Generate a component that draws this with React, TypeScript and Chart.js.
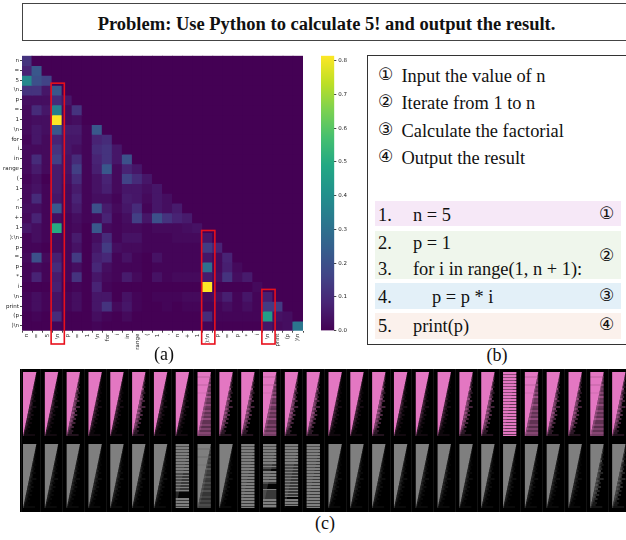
import React, { useEffect, useRef } from "react";
import { Chart, registerables } from "chart.js";

Chart.register(...registerables);

const TOKENS_Y = ["n","=","5","\\n","p","=","1","\\n","for","i","in","range","(","1",",","n","+","1","):\\n","p","=","p","*","i","\\n","print","(p",")\\n"];
const TOKENS_X = ["n","=","5","\\n","p","=","1","\\n","for","i","in","range","(","1",",","n","+","1","):\\n","p","=","p","*","i","\\n","print","(p",")\\n"];

const ATTENTION: number[][] = [
  [.12],
  [.08,.22],
  [.38,.2,.16],
  [.12,.12,.05,.22],
  [.03,.03,.03,.1,.05],
  [.02,.1,.05,.35,.02,.12],
  [.02,.03,.03,.82,.02,.03,0],
  [.02,.05,.03,.22,.06,.06,.01,.22],
  [.01,.05,.02,.08,.05,.05,.01,.08,.1],
  [.02,.02,.02,.12,.05,.03,.01,.1,.12,.05],
  [.02,.1,.02,.15,.04,.1,.01,.08,.12,.05,.2],
  [.02,.06,.02,.06,.04,.15,.01,.07,.22,.02,.08,.05],
  [.01,.03,0,.06,.03,.1,.01,.04,.08,.02,.16,.1,.05],
  [.02,.04,.01,.06,.02,.06,.01,.04,.07,.02,.05,.05,.03,.05],
  [.02,.1,.01,.05,.02,.08,.01,.03,.03,.01,.06,.05,.02,.05,.03],
  [.03,.03,.01,.22,.02,.06,.01,.2,.06,.02,.05,.1,.01,.05,.03,.06],
  [.02,.08,.01,.03,.01,.03,.01,.02,.08,.01,.03,.15,.05,.2,.12,.08,.06],
  [.05,.03,.01,.5,.01,.02,0,.22,.02,.01,.02,.02,.01,.02,.02,.02,.03,.04],
  [.01,.03,.01,.02,.01,.06,0,.03,.1,.01,.04,.04,.01,.01,.01,.02,.02,.02,.05],
  [.01,.01,0,.02,.01,.04,0,.05,.14,.03,.02,.02,.01,.01,.01,.01,.01,.01,.14,.08],
  [.02,.2,.02,.07,.01,.14,0,.07,.09,.01,.04,.01,0,.04,.01,.01,.01,.01,.05,.02,.08],
  [.01,.02,.01,.1,.01,.03,0,.09,.03,.01,.01,.01,0,.01,.01,.01,.01,.01,.3,.02,.07,.02],
  [.01,.08,.01,.06,.01,.12,0,.05,.02,.01,.06,.02,0,.04,.01,.02,.02,.02,.06,.03,.12,.03,.06],
  [0,0,0,.07,0,.01,0,.08,.01,0,0,0,0,0,0,0,0,0,.82,0,0,0,0,.02],
  [.01,.03,.01,.04,.01,.03,0,.05,.05,0,.04,.01,0,.01,.01,.01,.02,.02,.02,.03,.07,.01,.05,.01,.07],
  [.01,.03,.01,.04,.01,.03,0,.05,.12,.02,.05,.01,0,0,.01,0,.01,.01,.01,.01,.03,.01,.03,.01,.14,.14],
  [0,.01,0,.1,0,0,0,.03,.01,0,.02,0,0,0,0,0,0,0,.1,.01,.01,.01,.01,.01,.45,.04,.03],
  [0,0,0,.01,0,0,0,.01,0,0,0,0,0,0,0,0,0,0,.01,0,0,0,0,0,.05,.02,.03,.32],
];

const COLORBAR_TICKS = [0, .1, .2, .3, .4, .5, .6, .7, .8];
const COLORBAR_MAX = 0.815;
const VIRIDIS = ["#440154","#482475","#414487","#355f8d","#2a788e","#21918c","#22a884","#44bf70","#7ad151","#bddf26","#fde725"];
const HIGHLIGHT_COLS = [3, 18, 24];
const HIGHLIGHT_ROWS = [3, 18, 24];

// Panel (c): 1 row = 1 pixel of the strip
const TILE_COUNT = 28;
const TILE_WIDTH = 0.61;
const ROW_LABELS = Array.from({ length: 144 }, (_, i) => String(i));
const TRIANGLE = [100,98,97,95,94,92,91,89,88,86,84,83,81,80,78,77,75,73,72,70,69,67,66,64,63,61,59,58,56,55,53,52,50,48,47,45,44,42,41,39,38,36,34,33,31,30,28,27,25,23,22,20,19,17,16,14,13,11,9,8,6,5,3,2];
const HALO = [0,0,0,2,3,4,5,6,7,8,9,10,11,12,12,13,13,14,14,15,15,15,15,15,15,14,14,13,12,10,8,6];
const TAIL_MILD_END = [100,100,100,100,96,100,92,100,88,92,100,84,90,80,96,76,72,100,70,78,62,80,58,70,50,66,42,54,36,50,40,90];
const TAIL_MILD_A = [.15,.12,.1,.06,.12,.06,.1,.06,.15,.08,.06,.12,.08,.16,.08,.14,.18,.1,.16,.08,.16,.1,.16,.08,.12,.08,.12,.08,.08,.05,.06,.08];
const TAIL_MED_A = [.4,.35,.3,.25,.4,.2,.3,.2,.6,.3,.2,.35,.3,.55,.3,.4,.45,.3,.5,.3,.55,.35,.5,.3,.45,.3,.4,.3,.25,.2,.2,.15];
const TAIL_BUSY_END = [100,100,100,100,100,100,100,100,100,100,100,100,100,100,100,100,100,100,100,100,100,100,100,100,100,100,100,100,100,100,100,100];
const TAIL_BUSY_A = [.45,.3,.5,.35,.4,.25,.55,.3,.4,.3,.5,.3,.6,.35,.4,.3,.55,.35,.3,.5,.3,.45,.3,.55,.3,.3,.45,.25,.45,.3,.5,.4];
const TRI_BUSY_A = [1,1,.9,1,1,1,.9,1,1,1,.95,1,1,1,1,1,1,1,1,1,1,1,1,1,1,1,1,1,1,1,1,1];
const STRIPE_A = "1101101101101101101101101101101101101101101101101101101101101101";
const STRIPE_B = "1101101101101101101101101101100100100100100100102222221101101101";
const STRIPE_C = "1101101101101101101100100221101101101100222221000000000110110110";
const STRIPE_D = "1101101101101101101100100100100100100100100100100100122110110122";
// 0 mild, 1 medium, 2 busy, 3..6 stripes A..D
const PINK_STYLE = [0,0,1,0,0,1,0,0,2,1,1,2,1,1,0,0,1,0,0,0,1,1,3,2,1,1,2,1];
const GREY_STYLE = [0,0,0,0,0,0,0,4,2,0,3,5,6,3,0,0,0,0,0,0,0,0,0,0,0,0,1,1];
const SEPARATORS = [-0.05,0.82,1.82,2.82,3.82,4.82,5.82,6.82,7.82,8.82,9.82,10.82,11.82,12.82,13.82,14.82,15.82,16.82,17.82,18.82,19.82,20.82,21.82,22.82,23.82,24.82,25.82,26.82];
const PINK_RGB = "227,119,194";
const GREY_RGB = "127,127,127";
const PINK_FIRST_ROW = 4;
const GREY_FIRST_ROW = 76;

const hexRgb = (h: string) => [1, 3, 5].map((i) => parseInt(h.slice(i, i + 2), 16));
function viridis(v: number) {
  const t = Math.max(0, Math.min(1, v / COLORBAR_MAX)) * (VIRIDIS.length - 1);
  const i = Math.min(VIRIDIS.length - 2, Math.floor(t));
  const a = hexRgb(VIRIDIS[i]);
  const b = hexRgb(VIRIDIS[i + 1]);
  const f = t - i;
  return `rgb(${a.map((c, k) => Math.round(c + (b[k] - c) * f)).join(",")})`;
}

function tileLayers(idx: number, style: number, firstRow: number, rgb: string) {
  const blank = () => ROW_LABELS.map(() => null as any);
  const tri = blank(), halo = blank(), tail = blank(), stripes = blank();
  const triColors: string[] = [], haloColors: string[] = [], tailColors: string[] = [], stripeColors: string[] = [];
  const isStripe = style >= 3;
  const mask = [STRIPE_A, STRIPE_B, STRIPE_C, STRIPE_D][style - 3] ?? STRIPE_A;
  const frac = (p: number) => idx + (TILE_WIDTH * Math.min(100, p)) / 100;
  TRIANGLE.forEach((w, r) => {
    const coarse = Math.floor(r / 2);
    const row = firstRow + r;
    const triEnd = frac(w);
    tri[row] = [idx, triEnd];
    triColors[row] = `rgba(${rgb},${isStripe ? 0.3 : style === 2 ? TRI_BUSY_A[coarse] : 1})`;
    if (isStripe) {
      stripes[row] = [idx, idx + TILE_WIDTH];
      const m = mask[r];
      stripeColors[row] = `rgba(${rgb},${m === "1" ? 1 : m === "0" ? 0.45 : 0.03})`;
      return;
    }
    halo[row] = [triEnd, frac(w + HALO[coarse])];
    haloColors[row] = `rgba(${rgb},${style === 0 ? 0.15 : 0.25})`;
    const endList = style === 2 ? TAIL_BUSY_END : TAIL_MILD_END;
    const aList = style === 0 ? TAIL_MILD_A : style === 1 ? TAIL_MED_A : TAIL_BUSY_A;
    tail[row] = [triEnd, frac(Math.max(endList[coarse], w))];
    tailColors[row] = `rgba(${rgb},${aList[coarse]})`;
    if (style === 2) {
      stripes[row] = [idx, idx + TILE_WIDTH];
      stripeColors[row] = `rgba(${rgb},0.18)`;
    }
  });
  const common = { borderWidth: 0, inflateAmount: 0 as any };
  return [
    { data: tri, backgroundColor: triColors, ...common },
    { data: halo, backgroundColor: haloColors, ...common },
    { data: tail, backgroundColor: tailColors, ...common },
    { data: stripes, backgroundColor: stripeColors, ...common },
  ];
}

const redBoxes = {
  id: "redBoxes",
  afterDatasetsDraw(chart: any) {
    const { ctx, scales } = chart;
    ctx.save();
    ctx.strokeStyle = "#e8101c";
    ctx.lineWidth = 1.6;
    HIGHLIGHT_COLS.forEach((col, i) => {
      const cx = scales.x.getPixelForValue(col);
      const top = scales.y.getPixelForValue(HIGHLIGHT_ROWS[i]) - 2;
      ctx.strokeRect(cx - 6, top, 13.2, 344 - 45 - top);
    });
    ctx.restore();
  },
};

const abs = (l: number, t: number, extra: React.CSSProperties = {}): React.CSSProperties => ({
  position: "absolute", left: l, top: t, whiteSpace: "pre", lineHeight: 1, ...extra,
});
const SERIF = '"Liberation Serif", serif';
const CIRCLE = '"DejaVu Sans", sans-serif';

const STEPS = ["Input the value of n", "Iterate from 1 to n", "Calculate the factorial", "Output the result"];
const STEP_MARKS = ["①", "②", "③", "④"];
const STEP_Y = [76, 103, 131, 158];
const BANDS: [number, number, string][] = [[201, 25, "#f6e8f7"], [231, 48, "#eff6ec"], [283, 26, "#e3f0f8"], [313, 26, "#fbf1ec"]];
const CODE: [string, string, number, number][] = [
  ["1.", "n = 5", 413, 215],
  ["2.", "p = 1", 413, 243],
  ["3.", "for i in range(1, n + 1):", 413, 269],
  ["4.", "p = p * i", 432, 297],
  ["5.", "print(p)", 413, 326],
];
const CODE_MARKS: [string, number][] = [["①", 215], ["②", 257], ["③", 297], ["④", 326]];

export default function App() {
  const heatRef = useRef<HTMLCanvasElement>(null);
  const barRef = useRef<HTMLCanvasElement>(null);
  const tileRef = useRef<HTMLCanvasElement>(null);

  useEffect(() => {
    document.body.style.margin = "0";
    const tickFont = { family: "DejaVu Sans", size: 5.5 };
    const heat = new Chart(heatRef.current!, {
      type: "bar",
      data: {
        labels: TOKENS_X,
        datasets: TOKENS_Y.map((_, r) => ({
          data: TOKENS_X.map(() => 1),
          backgroundColor: TOKENS_X.map((_, c) => viridis(ATTENTION[r][c] ?? 0)),
          borderWidth: 0,
          inflateAmount: 0.5,
          categoryPercentage: 1,
          barPercentage: 1,
        })),
      },
      options: {
        responsive: false,
        animation: false,
        layout: { padding: { top: 10.7, right: 7, left: 0, bottom: 0 } },
        plugins: { legend: { display: false }, tooltip: { enabled: false } },
        scales: {
          x: {
            stacked: true,
            grid: { display: true, drawOnChartArea: false, tickLength: 2, tickColor: "#444" },
            border: { display: false },
            ticks: { autoSkip: false, minRotation: 90, maxRotation: 90, font: tickFont, color: "#222", padding: 1 },
            afterFit: (s: any) => { s.height = 34.3; },
          },
          y: {
            stacked: true,
            reverse: true,
            min: 0,
            max: 28,
            grid: { display: true, drawOnChartArea: false, tickLength: 2, tickColor: "#444" },
            border: { display: false },
            afterBuildTicks: (s: any) => { s.ticks = TOKENS_Y.map((_, i) => ({ value: i + 0.5 })); },
            ticks: { autoSkip: false, font: tickFont, color: "#222", padding: 1, callback: (v: any) => TOKENS_Y[Math.floor(v)] },
            afterFit: (s: any) => { s.width = 22; },
          },
        },
      } as any,
      plugins: [redBoxes],
    });

    const bctx = barRef.current!.getContext("2d")!;
    const grad = bctx.createLinearGradient(0, 285.7, 0, 10.7);
    VIRIDIS.forEach((c, i) => grad.addColorStop(i / (VIRIDIS.length - 1), c));
    const bar = new Chart(barRef.current!, {
      type: "bar",
      data: {
        labels: [""],
        datasets: [{ data: [[0, COLORBAR_MAX]] as any, backgroundColor: grad, borderWidth: 0, categoryPercentage: 1, barPercentage: 1 }],
      },
      options: {
        responsive: false,
        animation: false,
        layout: { padding: { top: 10.7, left: 11, right: 0, bottom: 34.3 } },
        plugins: { legend: { display: false }, tooltip: { enabled: false } },
        scales: {
          x: { display: false },
          y: {
            position: "right",
            min: 0,
            max: COLORBAR_MAX,
            grid: { display: true, drawOnChartArea: false, tickLength: 2, tickColor: "#444" },
            border: { display: false },
            afterBuildTicks: (s: any) => { s.ticks = COLORBAR_TICKS.map((value) => ({ value })); },
            ticks: { font: tickFont, color: "#222", padding: 2, callback: (v: any) => Number(v).toFixed(1) },
            afterFit: (s: any) => { s.width = 25.7; },
          },
        },
      } as any,
    });

    const datasets: any[] = [];
    for (let i = 0; i < TILE_COUNT; i++) {
      datasets.push(...tileLayers(i, PINK_STYLE[i], PINK_FIRST_ROW, PINK_RGB));
      datasets.push(...tileLayers(i, GREY_STYLE[i], GREY_FIRST_ROW, GREY_RGB));
    }
    const tiles = new Chart(tileRef.current!, {
      type: "bar",
      data: { labels: ROW_LABELS, datasets },
      options: {
        indexAxis: "y",
        responsive: false,
        animation: false,
        datasets: { bar: { grouped: false, categoryPercentage: 1, barPercentage: 1 } },
        layout: { padding: 0 },
        plugins: { legend: { display: false }, tooltip: { enabled: false } },
        scales: {
          x: {
            min: -0.1375,
            max: 27.635,
            grid: { color: "#131313", drawTicks: false, lineWidth: 1 },
            border: { display: false },
            ticks: { display: false },
            afterBuildTicks: (s: any) => { s.ticks = SEPARATORS.map((value) => ({ value })); },
          },
          y: { display: false },
        },
      } as any,
    });

    return () => { heat.destroy(); bar.destroy(); tiles.destroy(); };
  }, []);

  return (
    <div style={{ position: "relative", width: 626, height: 540, overflow: "hidden", background: "#fff", color: "#111", fontFamily: SERIF, filter: "blur(0.35px)" }}>
      <div style={{ position: "absolute", left: 22, top: 3, width: 620, height: 36, border: "1px solid #444" }} />
      <div style={abs(0, 15, { width: 653, textAlign: "center", fontWeight: 700, fontSize: 18.5 })}>Problem: Use Python to calculate 5! and output the result.</div>

      <canvas ref={heatRef} width={310} height={320} style={{ position: "absolute", left: 0, top: 45 }} />
      <canvas ref={barRef} width={50} height={320} style={{ position: "absolute", left: 310, top: 45 }} />
      <div style={abs(144, 345, { width: 40, textAlign: "center", fontSize: 18 })}>(a)</div>

      <div style={{ position: "absolute", left: 367, top: 55, width: 300, height: 288, border: "1px solid #333" }} />
      {STEPS.map((s, i) => (
        <React.Fragment key={s}>
          <div style={abs(378, STEP_Y[i] - 10, { fontFamily: CIRCLE, fontSize: 17 })}>{STEP_MARKS[i]}</div>
          <div style={abs(401.5, STEP_Y[i] - 9, { fontSize: 18.4 })}>{s}</div>
        </React.Fragment>
      ))}
      {BANDS.map(([t, h, c]) => (
        <div key={t} style={{ position: "absolute", left: 375, top: t, width: 246, height: h, background: c }} />
      ))}
      {CODE.map(([n, code, x, y]) => (
        <React.Fragment key={n}>
          <div style={abs(378, y - 9, { fontSize: 18.4 })}>{n}</div>
          <div style={abs(x, y - 9, { fontSize: 18.4 })}>{code}</div>
        </React.Fragment>
      ))}
      {CODE_MARKS.map(([m, y]) => (
        <div key={m} style={abs(599, y - 10, { fontFamily: CIRCLE, fontSize: 17 })}>{m}</div>
      ))}
      <div style={abs(477, 346, { width: 40, textAlign: "center", fontSize: 18 })}>(b)</div>

      <div style={{ position: "absolute", left: 20, top: 369, width: 606, height: 143, background: "#000", overflow: "hidden" }}>
        <canvas ref={tileRef} width={606} height={144} style={{ position: "absolute", left: 0, top: -1 }} />
      </div>
      <div style={abs(305, 514, { width: 40, textAlign: "center", fontSize: 18 })}>(c)</div>
    </div>
  );
}
